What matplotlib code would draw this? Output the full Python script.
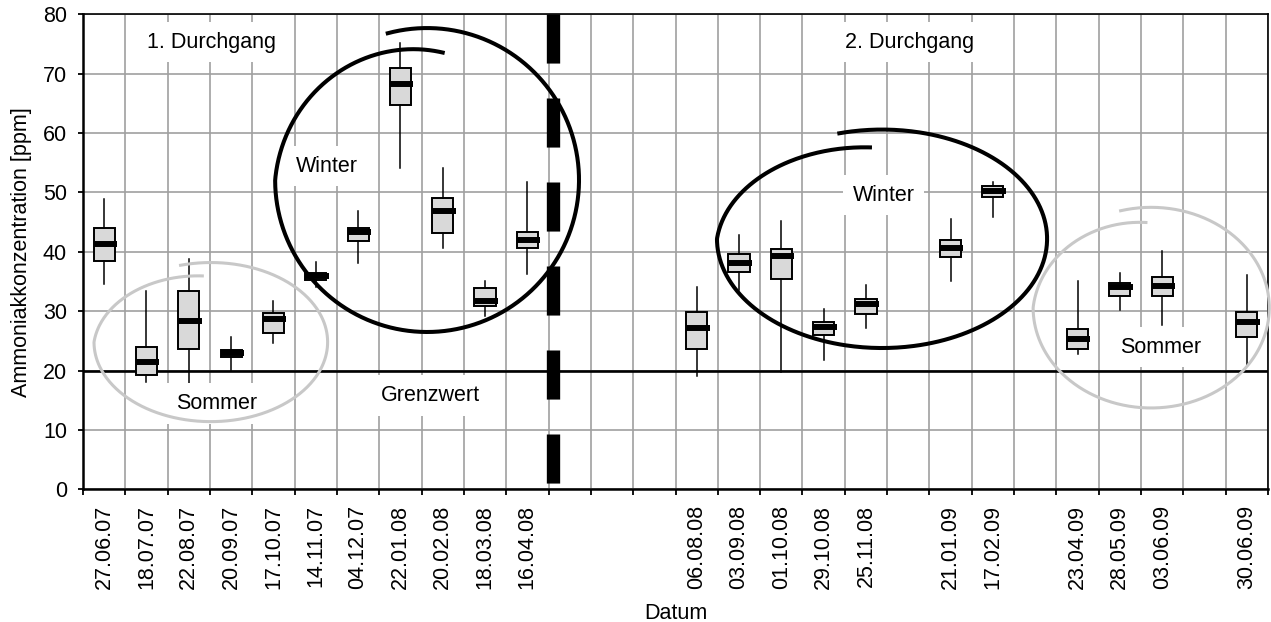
import numpy as np
import matplotlib
matplotlib.use("Agg")
import matplotlib.pyplot as plt

plt.rcParams['font.family'] = ['Liberation Sans', 'DejaVu Sans']
plt.rcParams['font.size'] = 15.5

# Messtermine (leere Einträge = Lücken auf der Kategorieachse)
categories = ['27.06.07', '18.07.07', '22.08.07', '20.09.07', '17.10.07',
              '14.11.07', '04.12.07', '22.01.08', '20.02.08', '18.03.08',
              '16.04.08', '', '', '', '06.08.08', '03.09.08', '01.10.08',
              '29.10.08', '25.11.08', '', '21.01.09', '17.02.09', '',
              '23.04.09', '28.05.09', '03.06.09', '', '30.06.09']

# Ammoniak [ppm] je Termin: Whisker oben, Q3, Median, Q1, Whisker unten
whis_hi = [48.9, 33.4, 38.8, 25.6, 31.7, 38.3, 46.9, 75.1, 54.2, 35.1, 51.7,
           34.0, 42.9, 45.2, 30.4, 34.4, 45.5, 51.8, 35.1, 36.4, 40.1, 36.1]
q3 = [44.0, 24.0, 33.4, 23.4, 29.7, 36.5, 44.0, 70.9, 49.0, 33.9, 43.3,
      29.8, 39.6, 40.5, 28.1, 32.1, 42.0, 51.1, 27.0, 34.8, 35.8, 29.8]
med = [41.3, 21.4, 28.4, 22.9, 28.7, 35.9, 43.3, 68.2, 46.9, 31.8, 42.0,
       27.1, 38.2, 39.3, 27.4, 31.2, 40.6, 50.3, 25.3, 34.0, 34.2, 28.1]
q1 = [38.4, 19.2, 23.6, 22.3, 26.4, 35.2, 41.9, 64.8, 43.2, 30.8, 40.6,
      23.7, 36.6, 35.4, 26.0, 29.5, 39.2, 49.3, 23.6, 32.5, 32.5, 25.7]
whis_lo = [34.5, 18.0, 17.8, 20.1, 24.7, 34.0, 38.2, 54.1, 40.6, 29.2, 36.2,
           19.1, 33.5, 19.7, 21.8, 27.2, 35.1, 45.9, 22.8, 30.2, 27.7, 21.0]

grenzwert = 20


def spiral(cx, cy, rx, ry, t_end, r_end, t_start=105):
    # handgezeichneter Kringel: Ellipse, die oben leicht nach innen ausläuft
    t = np.linspace(t_start, t_end, 500)
    r = np.where(t > -180, 1.0, 1 - (1 - r_end) * (-180 - t) / (-180 - t_end))
    th = np.radians(t)
    return cx + rx * r * np.cos(th), cy + ry * r * np.sin(th)


fig = plt.figure(figsize=(12.71, 6.22), dpi=100)
ax = fig.add_axes([83 / 1271, 1 - 489.3 / 622, 1185 / 1271, 474.9 / 622])

pos = [i for i, c in enumerate(categories) if c]
stats = [dict(whishi=a, q3=b, med=c, q1=d, whislo=e, fliers=[])
         for a, b, c, d, e in zip(whis_hi, q3, med, q1, whis_lo)]

ax.bxp(stats, positions=pos, widths=0.5, showcaps=False, showfliers=False,
       patch_artist=True,
       boxprops=dict(facecolor='#d9d9d9', edgecolor='black', linewidth=1.4),
       whiskerprops=dict(color='black', linewidth=1.1),
       medianprops=dict(linewidth=0), zorder=3)
ax.hlines(med, np.array(pos) - 0.25, np.array(pos) + 0.305, colors='black',
          linewidth=4.3, zorder=3.5)

ax.axhline(grenzwert, color='black', linewidth=1.9, zorder=2)

# Trennung der beiden Durchgänge
ax.plot([10.61, 10.61], [80, 0], color='black', linewidth=9.6,
        dashes=(3.68, 2.62), dash_capstyle='butt', zorder=4)

box = dict(boxstyle='square,pad=0.45', facecolor='white', edgecolor='none')
for x, y, s in [(2.54, 74.4, '1. Durchgang'), (5.27, 53.5, 'Winter'),
                (2.65, 13.5, 'Sommer'), (7.7, 14.9, 'Grenzwert'),
                (19.02, 74.4, '2. Durchgang'), (18.42, 48.6, 'Winter'),
                (24.97, 23.0, 'Sommer')]:
    ax.text(x, y, s, ha='center', va='baseline', bbox=box, zorder=5)

# Kringel Winter / Sommer
for cx, cy, rx, ry, t_end, r_end, col, lw in [
        (7.63, 52.1, 3.59, 25.6, -277, 0.845, 'black', 2.9),
        (18.38, 42.2, 3.9, 18.4, -265, 0.84, 'black', 2.9),
        (2.52, 24.8, 2.76, 13.4, -265, 0.835, '#c8c8c8', 2.2),
        (24.74, 30.6, 2.79, 16.9, -267, 0.85, '#c8c8c8', 2.2)]:
    xs, ys = spiral(cx, cy, rx, ry, t_end, r_end)
    ax.plot(xs, ys, color=col, linewidth=lw, zorder=6, clip_on=False)

ax.set_xlim(-0.5, len(categories) - 0.5)
ax.set_ylim(0, 80)
ax.set_yticks(np.arange(0, 81, 10))
ax.set_xticks(np.arange(-0.5, len(categories)), labels=[])
ax.set_xticks(range(len(categories)), labels=categories, minor=True,
              rotation=90)
ax.tick_params(axis='x', which='major', length=4, width=1.3, direction='out')
ax.tick_params(axis='x', which='minor', length=0, pad=11.3)
ax.tick_params(axis='y', length=3.6, width=1.3, pad=8)

ax.grid(True, which='major', color='#a0a0a0', linewidth=1.2)
ax.set_axisbelow(True)

for side in ['left', 'bottom']:
    ax.spines[side].set_linewidth(1.8)
for side in ['top', 'right']:
    ax.spines[side].set_linewidth(1.2)

ax.set_ylabel('Ammoniakkonzentration [ppm]')
ax.yaxis.set_label_coords(-0.0433, 0.5)
ax.set_xlabel('Datum')
ax.xaxis.set_label_coords(0.5, -0.2388)

plt.savefig('out.png', dpi=100)
